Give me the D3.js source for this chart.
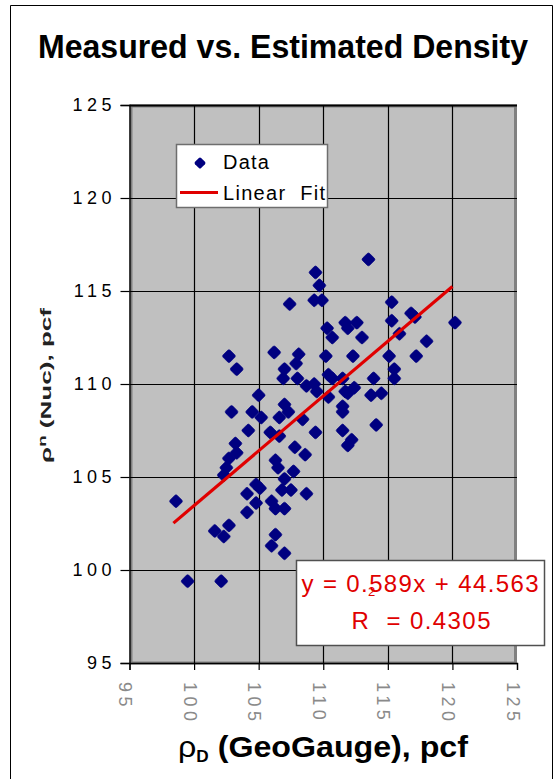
<!DOCTYPE html>
<html>
<head>
<meta charset="utf-8">
<script src="https://cdn.jsdelivr.net/npm/d3@7"></script>
<style>
  html, body { margin: 0; padding: 0; background: #fff; }
  svg { display: block; font-family: "Liberation Sans", Arial, sans-serif; }
</style>
</head>
<body>
<svg id="chart" width="559" height="779"></svg>
<script>
// ---- data ----
const titleText = "Measured vs. Estimated Density";
const xTicks = [95, 100, 105, 110, 115, 120, 125];
const yTicks = [95, 100, 105, 110, 115, 120, 125];
const xGridTicks = [100, 105, 110, 115, 120];
const yGridTicks = [100, 105, 110, 115, 120, 125];
// GeoGauge density (x) and Nuclear gauge density (y), pcf
const geoDensity = [
  109.4, 109.7, 109.3, 109.9, 107.4, 110.3, 110.7, 102.7, 103.3, 106.2,
  108.1, 110.2, 107.0, 107.9, 106.9, 108.0, 108.7, 109.3, 109.5, 110.4,
  110.7, 105.0, 102.9, 104.5, 105.2, 107.0, 107.3, 106.6, 108.4, 110.4,
  104.2, 105.9, 106.6, 109.4, 103.2, 103.3, 102.7, 102.5, 102.3, 107.8,
  108.6, 106.3, 106.5, 107.7, 107.0, 104.8, 105.1, 104.1, 104.8, 106.8,
  107.5, 108.7, 106.0, 106.3, 107.0, 104.1, 98.6, 101.6, 102.3, 102.7,
  106.3, 106.0, 107.0, 99.5, 102.1, 113.5, 115.3, 115.3, 116.8, 117.1,
  115.9, 120.2, 118.0, 117.2, 115.1, 115.5, 115.5, 113.9, 114.5, 113.7,
  114.1, 111.7, 112.6, 111.9, 113.0, 112.3, 111.5, 112.4, 111.7, 111.9,
  111.5, 111.5, 111.5, 112.2, 111.9
];
const nucDensity = [
  116.0, 115.3, 114.5, 114.5, 114.3, 113.0, 112.5, 111.5, 110.8, 111.7,
  111.6, 111.5, 110.8, 111.1, 110.3, 110.3, 109.9, 110.0, 109.6, 110.5,
  110.3, 109.4, 108.5, 108.5, 108.2, 108.9, 108.5, 108.2, 108.1, 109.3,
  107.5, 107.4, 107.2, 107.4, 106.8, 106.3, 106.0, 105.5, 105.1, 106.6,
  106.2, 105.9, 105.5, 105.3, 104.9, 104.6, 104.4, 104.1, 103.6, 104.3,
  104.3, 104.1, 103.7, 103.3, 103.3, 103.1, 103.7, 102.1, 101.8, 102.4,
  101.9, 101.3, 100.9, 99.4, 99.4, 116.7, 114.4, 113.4, 113.8, 113.6,
  112.7, 113.3, 112.3, 111.5, 111.5, 110.8, 110.3, 110.3, 109.5, 109.4,
  107.8, 113.3, 113.3, 113.0, 112.5, 111.5, 110.3, 109.8, 109.6, 109.5,
  108.8, 108.5, 107.5, 107.0, 106.7
];
const fitSlope = 0.589;
const fitIntercept = 44.563;
const fitRange = [98.4, 120.0];
const rValue = "0.4305";
const legendLabels = ["Data", "Linear  Fit"];

// ---- drawing ----
const svg = d3.select("#chart");
const x = d3.scaleLinear().domain([95, 125]).range([129.5, 517]);
const y = d3.scaleLinear().domain([95, 125]).range([663, 105]);

// outer frame
svg.append("rect").attr("x", 0).attr("y", 0).attr("width", 559).attr("height", 779).attr("fill", "#fff");
svg.append("path").attr("d", "M10.5,790 V5.5 H552.5 V790")
  .attr("fill", "none").attr("stroke", "#000").attr("stroke-width", 1);

// title
svg.append("text").attr("x", 283).attr("y", 58)
  .attr("text-anchor", "middle").attr("font-size", 33).attr("font-weight", "bold")
  .attr("textLength", 490).attr("lengthAdjust", "spacingAndGlyphs")
  .text(titleText);

// plot area
svg.append("rect")
  .attr("x", x(95)).attr("y", y(125))
  .attr("width", x(125) - x(95)).attr("height", y(95) - y(125))
  .attr("fill", "#c0c0c0");
svg.append("rect")
  .attr("x", x(95) + 1.5).attr("y", y(125) + 1)
  .attr("width", x(125) - x(95) - 3).attr("height", y(95) - y(125) - 1)
  .attr("fill", "none").attr("stroke", "#808080").attr("stroke-width", 3);

// gridlines
const g = svg.append("g");
g.selectAll(".vg").data(xGridTicks).join("line")
  .attr("x1", d => Math.round(x(d)) + 0.5).attr("x2", d => Math.round(x(d)) + 0.5)
  .attr("y1", y(125)).attr("y2", y(95))
  .attr("stroke", "#000").attr("stroke-width", 1.2);
g.selectAll(".hg").data(yGridTicks).join("line")
  .attr("x1", x(95)).attr("x2", x(125))
  .attr("y1", d => Math.round(y(d)) + 0.5).attr("y2", d => Math.round(y(d)) + 0.5)
  .attr("stroke", "#000").attr("stroke-width", d => d === 125 ? 2 : 1.2);

// axes
const yAxis = d3.axisLeft(y).tickValues(yTicks).tickSize(9).tickPadding(9).tickFormat(d3.format("d"));
const yA = svg.append("g").attr("transform", "translate(" + x(95) + ",0)").call(yAxis);
yA.select(".domain").attr("stroke", "#000").attr("stroke-width", 1.3);
yA.selectAll(".tick line").attr("stroke", "#000").attr("stroke-width", 1.2);
yA.selectAll(".tick text")
  .attr("font-size", 18).attr("font-family", "Liberation Sans, Arial, sans-serif")
  .attr("letter-spacing", 4.5).attr("fill", "#000").attr("dx", 4.5);

const xAxis = d3.axisBottom(x).tickValues(xTicks).tickSize(7).tickFormat(d3.format("d"));
const xA = svg.append("g").attr("transform", "translate(0," + y(95) + ")").call(xAxis);
xA.select(".domain").attr("stroke", "#000").attr("stroke-width", 1.3);
xA.selectAll(".tick line").attr("stroke", "#000").attr("stroke-width", 1.2);
xA.selectAll(".tick text")
  .attr("font-size", 18).attr("font-family", "Liberation Sans, Arial, sans-serif")
  .attr("letter-spacing", 4.5).attr("fill", "#8a8a8a")
  .attr("text-anchor", "start").attr("dy", null)
  .attr("transform", "translate(-11,19) rotate(90)")
  .attr("x", 0).attr("y", 0);

// data points (rounded diamonds)
const pts = geoDensity.map((v, i) => [v, nucDensity[i]]);
svg.append("g").selectAll("rect").data(pts).join("rect")
  .attr("x", -5).attr("y", -5).attr("width", 10).attr("height", 10)
  .attr("rx", 1.8).attr("ry", 1.8)
  .attr("fill", "#000080").attr("stroke", "#000080").attr("stroke-width", 0.6)
  .attr("transform", d => "translate(" + x(d[0]) + "," + y(d[1]) + ") rotate(45)");

// fit line
const line = d3.line().x(d => x(d)).y(d => y(fitSlope * d + fitIntercept));
svg.append("path").datum(fitRange).attr("d", line)
  .attr("fill", "none").attr("stroke", "#e00000").attr("stroke-width", 3.2);

// legend
const lg = svg.append("g");
lg.append("rect").attr("x", 176.5).attr("y", 144.5).attr("width", 151).attr("height", 63)
  .attr("fill", "#fff").attr("stroke", "#6e6e6e").attr("stroke-width", 1.5);
lg.append("rect").attr("x", -4.3).attr("y", -4.3).attr("width", 8.6).attr("height", 8.6)
  .attr("rx", 1.6).attr("fill", "#000080")
  .attr("transform", "translate(200,163) rotate(45)");
lg.append("line").attr("x1", 180).attr("x2", 218).attr("y1", 192.5).attr("y2", 192.5)
  .attr("stroke", "#e00000").attr("stroke-width", 3.2);
lg.append("text").attr("x", 223).attr("y", 169).attr("font-size", 20).attr("letter-spacing", 1.2)
  .text(legendLabels[0]);
lg.append("text").attr("x", 223).attr("y", 200).attr("font-size", 20)
  .style("white-space", "pre")
  .attr("textLength", 102).attr("lengthAdjust", "spacing")
  .text(legendLabels[1]);

// equation box
const eb = svg.append("g");
eb.append("rect").attr("x", 296.5).attr("y", 560.5).attr("width", 248).attr("height", 85)
  .attr("fill", "#fff").attr("stroke", "#505050").attr("stroke-width", 1.5);
eb.append("text").attr("x", 420).attr("y", 592).attr("text-anchor", "middle")
  .attr("font-size", 24).attr("fill", "#e00000")
  .attr("textLength", 237).attr("lengthAdjust", "spacing")
  .text("y = " + fitSlope + "x + " + fitIntercept);
eb.append("text").attr("x", 421).attr("y", 629).attr("text-anchor", "middle")
  .attr("font-size", 24).attr("fill", "#e00000").style("white-space", "pre")
  .attr("textLength", 139).attr("lengthAdjust", "spacing")
  .text("R  = " + rValue);
eb.append("text").attr("x", 368).attr("y", 596).attr("font-size", 13).attr("fill", "#e00000")
  .text("2");

// axis titles
svg.append("text")
  .attr("transform", "translate(51,385.5) rotate(-90)")
  .attr("text-anchor", "middle").attr("font-size", 14).attr("font-weight", "bold")
  .attr("fill", "#222").style("white-space", "pre")
  .attr("textLength", 155).attr("lengthAdjust", "spacingAndGlyphs")
  .call(t => {
    t.append("tspan").text("ρ");
    t.append("tspan").attr("font-size", 10).attr("dy", -5).text("n");
    t.append("tspan").attr("dy", 5).text(" (Nuc), pcf");
  });

svg.append("text")
  .attr("x", 178).attr("y", 757).attr("font-size", 30).attr("font-weight", "bold")
  .style("white-space", "pre")
  .attr("textLength", 290).attr("lengthAdjust", "spacingAndGlyphs")
  .call(t => {
    t.append("tspan").attr("font-weight", "normal").text("ρ");
    t.append("tspan").attr("font-size", 16).attr("dy", 5).text("D");
    t.append("tspan").attr("dy", -5).text(" (GeoGauge), pcf");
  });
</script>
</body>
</html>
